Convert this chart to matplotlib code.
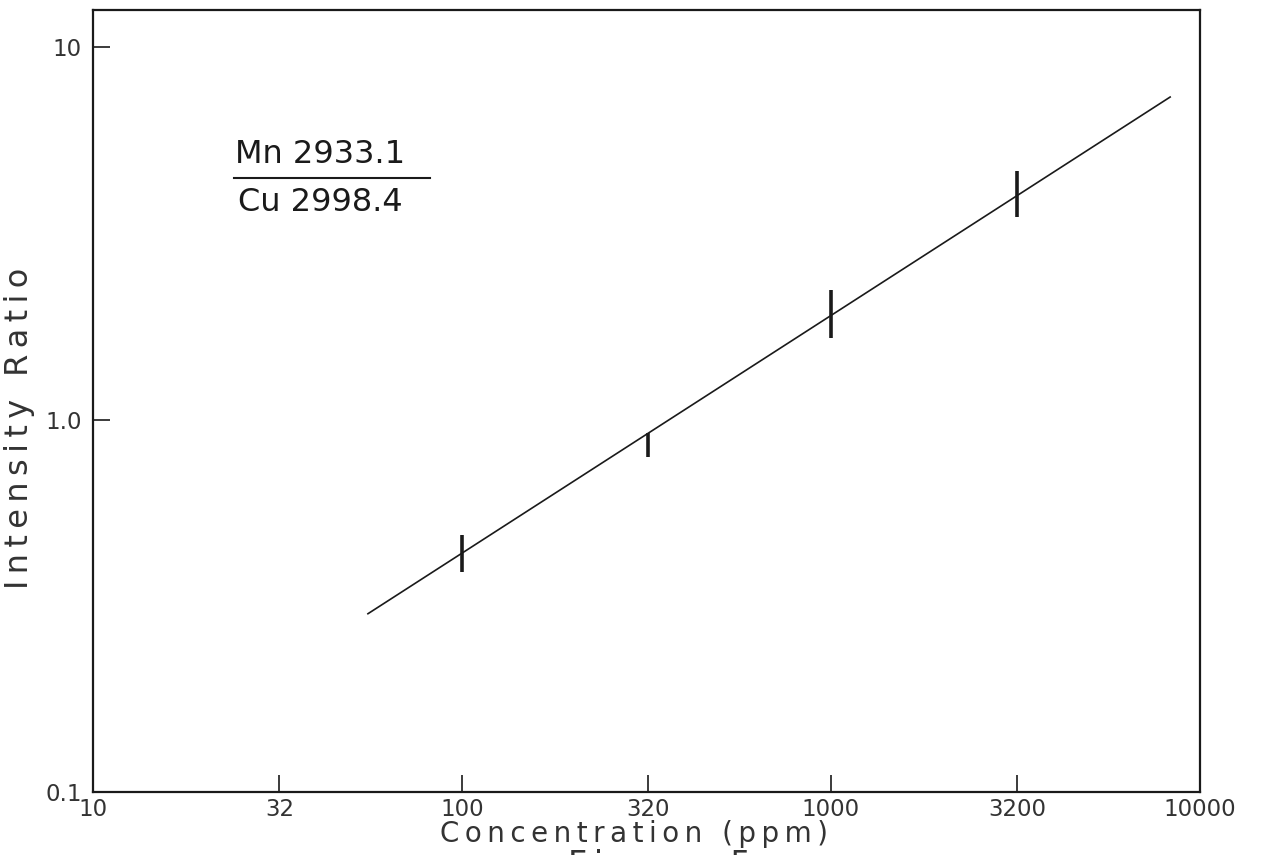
import matplotlib
matplotlib.use('Agg')
import matplotlib.pyplot as plt

# values
conc = [100, 320, 1000, 3200]
ratio_lo = [0.390, 0.792, 1.66, 3.50]
ratio_hi = [0.490, 0.920, 2.23, 4.65]

fit_conc = [55.6, 8300]
fit_ratio = [0.301, 7.34]

xticks = [10, 32, 100, 320, 1000, 3200, 10000]
xticklabels = ['10', '32', '100', '320', '1000', '3200', '10000']
yticks = [0.1, 1.0, 10]
yticklabels = ['0.1', '1.0', '10']

ink = '#1a1a1a'
thin = '\u2009'


def spaced(s):
    return thin.join(list(s))


plt.rcParams['font.family'] = ['DejaVu Sans']

fig = plt.figure(figsize=(12.65, 8.55), dpi=100)
ax = fig.add_axes([93 / 1265, 1 - 792 / 855, (1200 - 93) / 1265, (792 - 10) / 855])

ax.plot(fit_conc, fit_ratio, color=ink, lw=1.2)
ax.vlines(conc, ratio_lo, ratio_hi, color=ink, lw=2.6)

ax.set_xscale('log')
ax.set_yscale('log')
ax.set_xlim(10, 10000)
ax.set_ylim(0.1, 12.57)

ax.set_xticks(xticks)
ax.set_xticklabels(xticklabels)
ax.set_yticks(yticks)
ax.set_yticklabels(yticklabels)
ax.minorticks_off()
ax.tick_params(direction='in', length=12, width=1.2, color=ink,
               labelcolor='#333333', labelsize=16.5)
ax.tick_params(axis='x', pad=4)
ax.tick_params(axis='y', pad=8)

for s in ax.spines.values():
    s.set_linewidth(1.6)
    s.set_color(ink)

fig.text(634 / 1265, 1 - 834 / 855, spaced('Concentration (ppm)'),
         ha='center', va='center', fontsize=20, color='#333333')
fig.text(20 / 1265, 1 - 428 / 855, spaced('Intensity Ratio'),
         ha='center', va='center', rotation=90, fontsize=23, color='#333333')
fig.text(568 / 1265, 1 - 849 / 855, spaced('Figure 5'),
         ha='left', va='top', fontsize=24, color='#333333')

# ratio label in the upper left
ax.text(0.128, 0.796, 'Mn 2933.1', transform=ax.transAxes,
        ha='left', va='bottom', fontsize=23, color=ink)
ax.plot([0.127, 0.304], [0.785, 0.785], transform=ax.transAxes,
        color=ink, lw=1.5)
ax.text(0.131, 0.774, 'Cu 2998.4', transform=ax.transAxes,
        ha='left', va='top', fontsize=23, color=ink)

fig.savefig('out.png', dpi=100)
